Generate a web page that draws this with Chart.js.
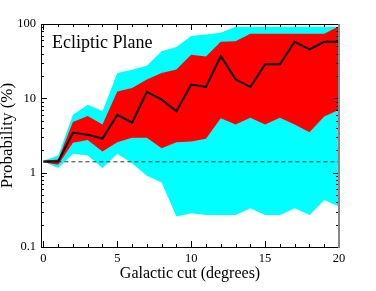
<!DOCTYPE html>
<html>
<head>
<meta charset="utf-8">
<script src="https://cdn.jsdelivr.net/npm/chart.js@4"></script>
<style>
  html, body { margin: 0; padding: 0; background: #fff; }
  #wrap { width: 376px; height: 291px; position: relative; }
</style>
</head>
<body>
<div id="wrap"><canvas id="c"></canvas></div>
<script>
// galactic cut (degrees)
const cuts = [0, 1, 2, 3, 4, 5, 6, 7, 8, 9, 10, 11, 12, 13, 14, 15, 16, 17, 18, 19, 20];

// probability (%) — outer band (cyan), inner band (red), median (black)
const cyanHi = [1.45, 1.7, 6.0, 8.2, 6.7, 22, 24.2, 27.5, 43, 49.2, 69, 72.5, 76, 92, 92, 92, 92, 92, 92, 92, 92];
const redHi  = [1.45, 1.5, 4.8, 5.8, 4.45, 12.4, 13.8, 17.9, 22, 24.4, 38.5, 36.5, 57.6, 58.5, 74, 74, 74, 74, 74, 74, 93];
const median = [1.41, 1.41, 3.44, 3.23, 2.88, 6.0, 4.7, 12.2, 9.6, 6.7, 15.3, 14.2, 37, 18, 14.2, 28.8, 28.8, 57.6, 45.5, 57.6, 57.6];
const redLo  = [1.38, 1.28, 2.52, 2.76, 1.92, 2.57, 2.94, 2.94, 2.13, 2.57, 2.62, 2.85, 5.4, 4.45, 5.5, 4.45, 5.5, 4.45, 3.5, 5.7, 7.0];
const cyanLo = [1.41, 1.16, 1.79, 1.7, 1.16, 1.79, 1.34, 0.91, 0.74, 0.257, 0.285, 0.27, 0.27, 0.27, 0.333, 0.27, 0.27, 0.333, 0.27, 0.43, 0.35];

// chance level (dashed)
const chance = 1.4;

const xTicks = [0, 5, 10, 15, 20];
const yTicks = [0.1, 1, 10, 100];

const serif = "'Liberation Serif', 'DejaVu Serif', serif";
Chart.defaults.color = '#000';
Chart.defaults.font.family = serif;

const pts = arr => arr.map((v, i) => ({ x: cuts[i], y: v }));

function band(vals, color, fill, order) {
  return {
    data: pts(vals), borderWidth: 0, borderColor: 'rgba(0,0,0,0)',
    backgroundColor: color, fill: fill, pointRadius: 0, tension: 0, order: order,
  };
}

// inward ticks on all four sides + frame + panel label
const frameTicks = {
  id: 'frameTicks',
  afterDraw(chart) {
    const { ctx, chartArea: a, scales: { x, y } } = chart;
    ctx.save();
    ctx.lineWidth = 1;
    ctx.strokeStyle = '#000';
    const seg = (x0, y0, x1, y1) => {
      ctx.beginPath(); ctx.moveTo(x0, y0); ctx.lineTo(x1, y1); ctx.stroke();
    };
    for (let v = 0; v <= 20; v++) {
      const px = Math.round(x.getPixelForValue(v)) + 0.5;
      const len = v % 5 === 0 ? 6 : 3;
      seg(px, a.bottom, px, a.bottom - len);
      seg(px, a.top, px, a.top + len);
    }
    for (const d of [0.1, 1, 10]) {
      for (let k = 1; k <= 10; k++) {
        const v = d * k;
        const py = Math.round(y.getPixelForValue(v)) + 0.5;
        const len = (k === 1 || k === 10) ? 6 : 3;
        seg(a.left, py, a.left + len, py);
        seg(a.right, py, a.right - len, py);
      }
    }
    // frame
    seg(a.left + 0.5, a.top + 0.5, a.right, a.top + 0.5);
    seg(a.left + 0.5, a.top, a.left + 0.5, a.bottom);
    seg(a.left, a.bottom + 0.5, a.right, a.bottom + 0.5);
    ctx.strokeStyle = '#888';
    ctx.lineWidth = 2;
    seg(a.right, a.top, a.right, a.bottom + 1);

    ctx.fillStyle = '#000';
    ctx.font = '18px ' + serif;
    ctx.textBaseline = 'alphabetic';
    ctx.fillText('Ecliptic Plane', a.left + 11, a.top + 24);
    ctx.restore();
  }
};

new Chart(document.getElementById('c'), {
  type: 'line',
  data: {
    datasets: [
      band(cyanHi, '#00ffff', '+1', 5),
      band(cyanLo, 'rgba(0,0,0,0)', false, 5),
      band(redHi, '#ff0000', '+1', 3),
      band(redLo, 'rgba(0,0,0,0)', false, 3),
      { data: pts(median), borderColor: '#000', borderWidth: 2, pointRadius: 0,
        tension: 0, fill: false, order: 1 },
      { data: [{ x: 0, y: chance }, { x: 20, y: chance }], borderColor: '#333',
        borderWidth: 1, borderDash: [4, 3], pointRadius: 0, fill: false, order: 0 },
    ]
  },
  options: {
    responsive: true,
    maintainAspectRatio: false,
    animation: false,
    layout: { padding: { top: 24, right: 37, left: 0, bottom: 0 } },
    plugins: { legend: { display: false }, tooltip: { enabled: false } },
    scales: {
      x: {
        type: 'linear', min: -0.16, max: 20,
        grid: { display: false, drawTicks: false }, border: { display: false },
        afterBuildTicks: s => { s.ticks = xTicks.map(v => ({ value: v })); },
        afterFit: s => { s.height = 44; },
        ticks: { font: { size: 12.5, lineHeight: 1 }, padding: 5, maxRotation: 0 },
        title: { display: true, text: 'Galactic cut (degrees)',
                 font: { size: 16, lineHeight: 1.2 }, padding: { top: 0, bottom: 7.5 } },
      },
      y: {
        type: 'logarithmic', min: 0.1, max: 100,
        grid: { display: false, drawTicks: false }, border: { display: false },
        afterBuildTicks: s => { s.ticks = yTicks.map(v => ({ value: v })); },
        afterFit: s => { s.width = 41; },
        ticks: { font: { size: 12.5 }, padding: 5, callback: v => String(v) },
        title: { display: true, text: 'Probability (%)',
                 font: { size: 17, lineHeight: 0.85 }, padding: { top: 0, bottom: 0 } },
      },
    },
  },
  plugins: [frameTicks],
});
</script>
</body>
</html>
